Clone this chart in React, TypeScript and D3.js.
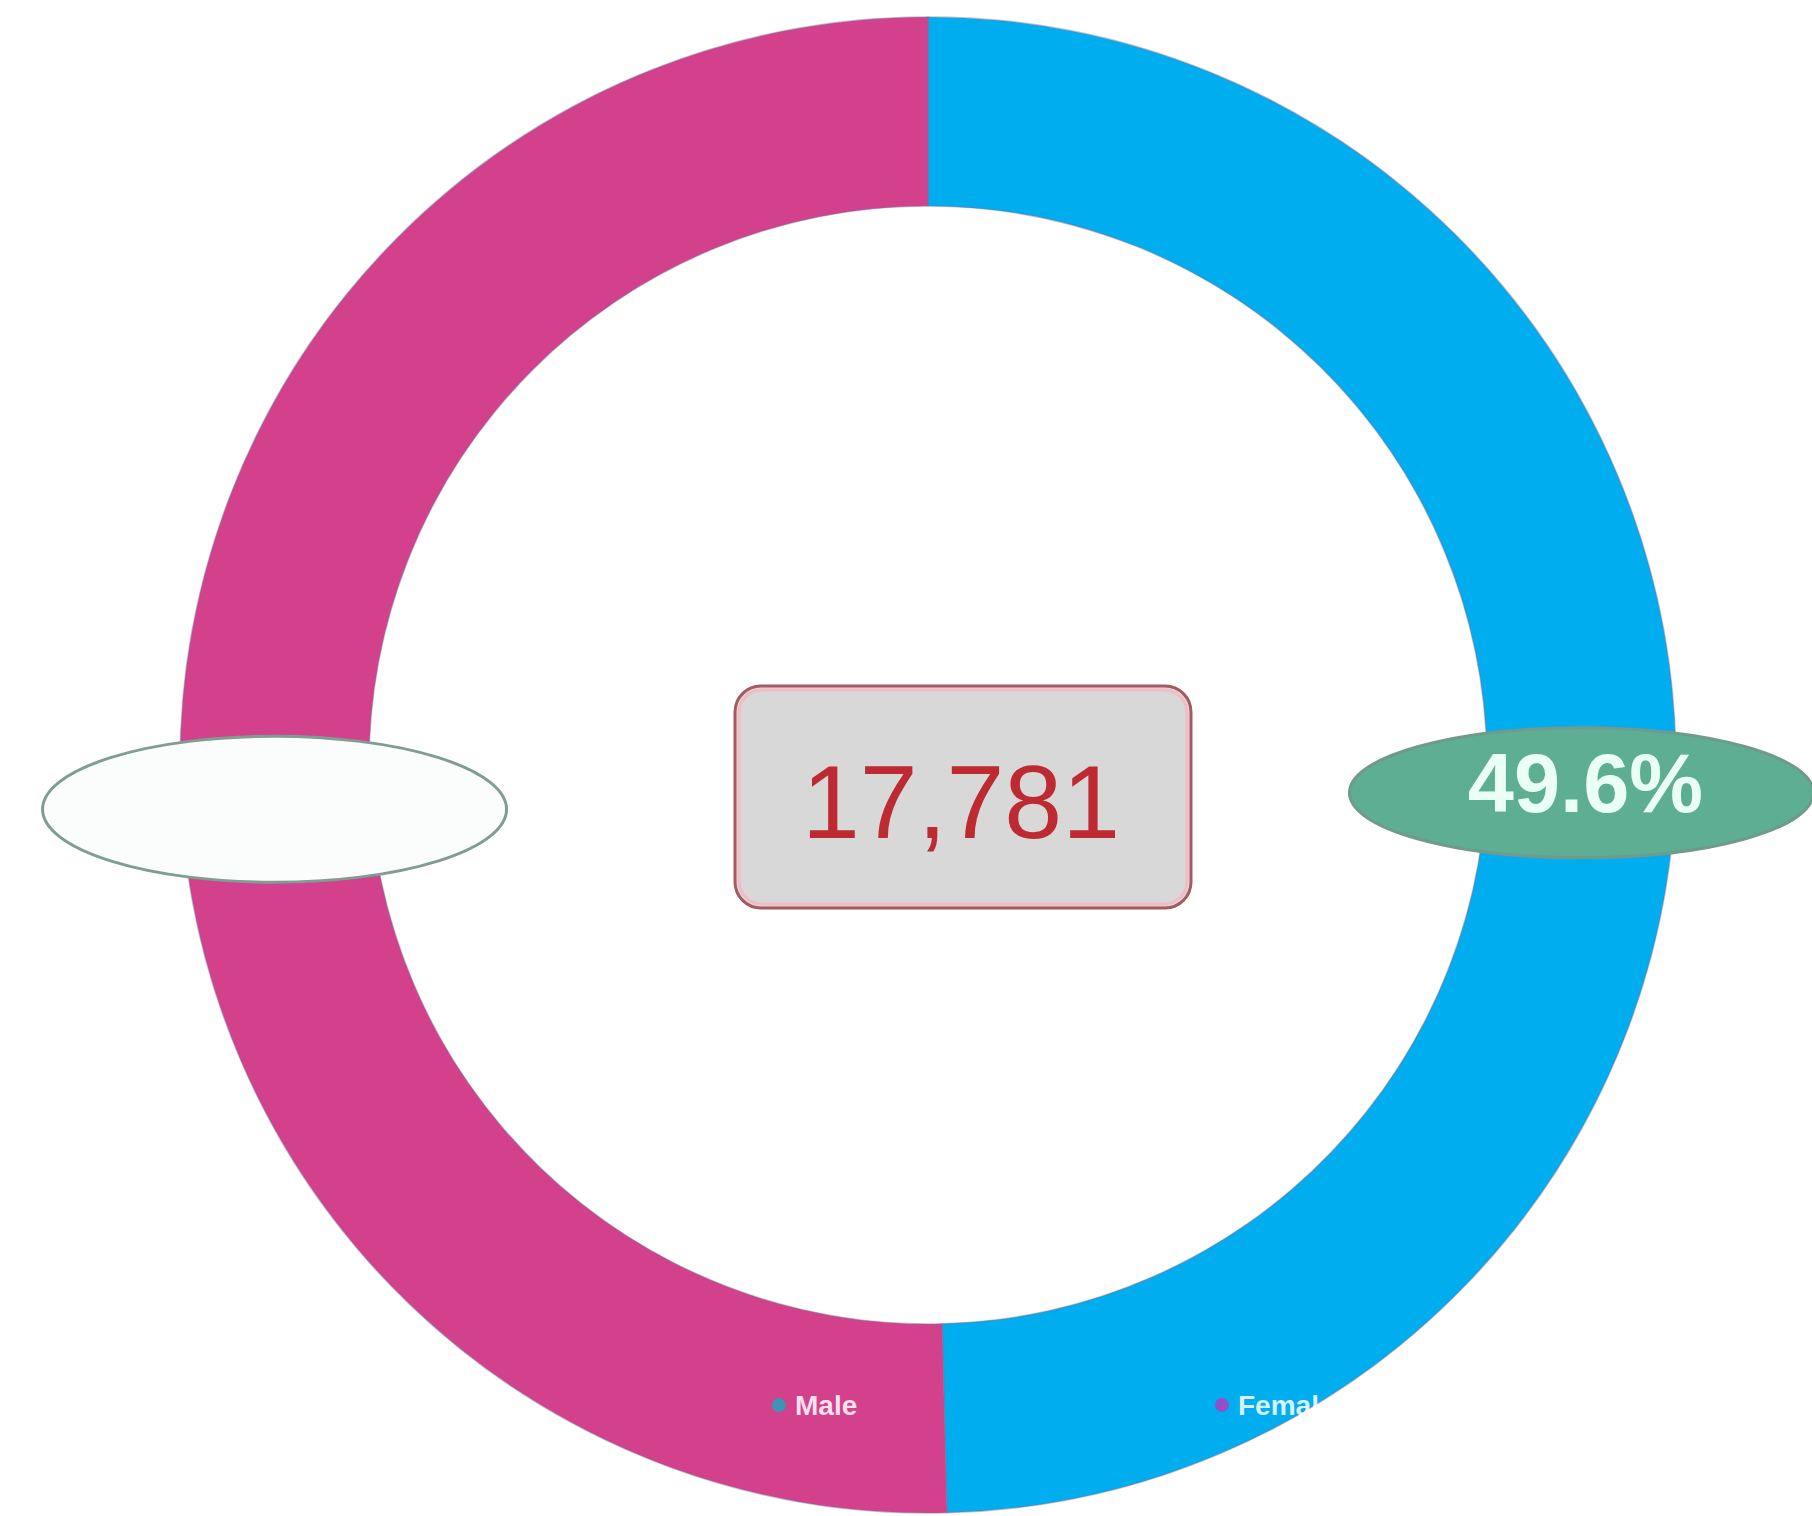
import React from 'react';
import * as d3 from 'd3';

// chart data
const categories = ['Male', 'Female'];
const counts = [8819, 8962];
const showPercent = [true, false];

const sliceColors = ['#00adef', '#d3418d'];
const legendMarkColors = ['#3f93b5', '#9152c8'];

const W = 1812;
const H = 1516;
const FONT = '"Liberation Sans", Arial, Helvetica, sans-serif';

export default function App() {
  const cx = 928;
  const cy = 765;
  const outerR = 748;
  const innerR = 559;

  const total = d3.sum(counts);
  const fmt = d3.format(',');
  const pctFmt = d3.format('.1%');

  // first slice starts at 12 o'clock and runs clockwise
  const pie = d3.pie<number>().sort(null).value((d) => d);
  const arcs = pie(counts);
  const arc = d3.arc<d3.PieArcDatum<number>>().innerRadius(innerR).outerRadius(outerR);

  // legend sits inside the bottom of the ring
  const legendX = d3.scalePoint<string>().domain(categories).range([779, 1222]);
  const legendY = 1405;

  return (
    <svg width={W} height={H} style={{ position: 'absolute', left: 0, top: 0, background: '#fff' }}>
      <g transform={`translate(${cx},${cy})`}>
        {arcs.map((a, i) => (
          <path
            key={categories[i]}
            d={arc(a) || ''}
            fill={sliceColors[i]}
            stroke="#7d6f96"
            strokeOpacity={0.45}
            strokeWidth={1.5}
          />
        ))}

        {/* slice labels */}
        {arcs.map((a, i) => {
          const [lx, ly] = arc.centroid(a);
          const ex = lx;
          const ey = ly + 36;
          return (
            <g key={'lbl' + i} transform={`translate(${ex},${ey})`}>
              <ellipse
                rx={232}
                ry={showPercent[i] ? 65 : 73}
                fill={showPercent[i] ? '#5dae93' : '#fbfdfc'}
                stroke={showPercent[i] ? '#6f9a8c' : '#7f9d92'}
                strokeWidth={3}
              />
              {showPercent[i] && (
                <text
                  x={4}
                  y={19}
                  textAnchor="middle"
                  fontFamily={FONT}
                  fontWeight="bold"
                  fontSize={83}
                  fill="#eafff6"
                >
                  {pctFmt(a.value / total)}
                </text>
              )}
            </g>
          );
        })}

        {/* total box */}
        <g transform="translate(35,32)">
          <rect x={-228} y={-111} width={456} height={222} rx={26} fill="#d8d8d8" stroke="#a55a62" strokeWidth={3} />
          <rect x={-224} y={-107} width={448} height={214} rx={23} fill="none" stroke="#f2bcc4" strokeWidth={3} />
          <text
            x={-2}
            y={41}
            textAnchor="middle"
            fontFamily={FONT}
            fontSize={104}
            fill="#bd2a32"
          >
            {fmt(total)}
          </text>
        </g>
      </g>

      {/* legend */}
      {categories.map((c, i) => (
        <g key={'leg' + c} transform={`translate(${legendX(c)},${legendY})`}>
          <circle r={7} fill={legendMarkColors[i]} />
          <text
            x={16}
            y={10}
            fontFamily={FONT}
            fontWeight="bold"
            fontSize={28}
            fill="#ffffff"
            fillOpacity={0.85}
          >
            {c}
          </text>
        </g>
      ))}
    </svg>
  );
}
